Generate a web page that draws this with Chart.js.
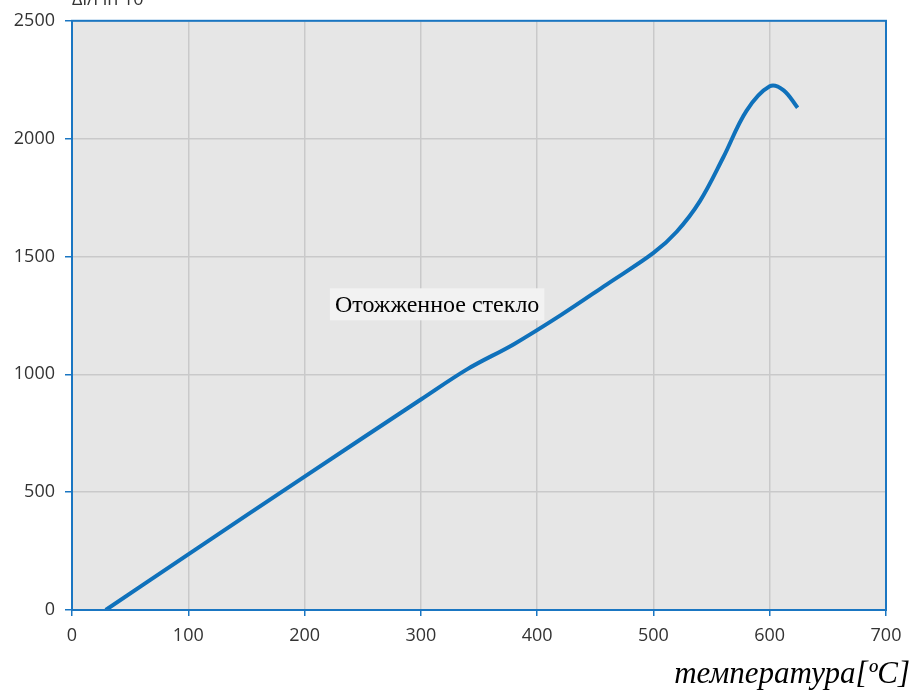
<!DOCTYPE html>
<html>
<head>
<meta charset="utf-8">
<script src="https://cdn.jsdelivr.net/npm/chart.js@4"></script>
<style>
  html, body { margin: 0; padding: 0; background: #fff; }
  #wrap { width: 915px; height: 691px; }
</style>
</head>
<body>
<div id="wrap"><canvas id="myChart" width="915" height="691"></canvas></div>
<script>
// temperature (°C) and expansion Δl/l (10^-6)
const temps = [29, 100, 200, 300, 340, 380, 420, 460, 500, 520, 540, 560, 580, 600, 612, 624];
const expansion = [0, 236, 566, 893, 1022, 1128, 1250, 1382, 1515, 1605, 1735, 1920, 2118, 2222, 2205, 2131];
const x_ticks = [0, 100, 200, 300, 400, 500, 600, 700];
const y_ticks = [0, 500, 1000, 1500, 2000, 2500];
const curve_label = "Отожженное стекло";
const label_at = [314, 1297];
const x_title = "температура[ºC]";
const y_title = "Δl/l in 10⁻⁶";

const BLUE = "#1a76c2";
const GRID = "#c9c9ca";

const points = temps.map((t, i) => ({ x: t, y: expansion[i] }));

const extras = {
  id: "extras",
  beforeDraw(chart) {
    const { ctx, chartArea: a } = chart;
    ctx.save();
    ctx.fillStyle = "#e6e6e6";
    ctx.fillRect(a.left, a.top, a.right - a.left, a.bottom - a.top);
    ctx.restore();
  },
  afterDatasetsDraw(chart) {
    const { ctx, chartArea: a, scales } = chart;
    ctx.save();
    // frame
    ctx.strokeStyle = BLUE;
    ctx.lineWidth = 2;
    ctx.strokeRect(a.left, a.top, a.right - a.left, a.bottom - a.top);

    // label in the plot
    ctx.font = '24px "Liberation Serif", "Times New Roman", serif';
    const lx = scales.x.getPixelForValue(label_at[0]);
    const ly = scales.y.getPixelForValue(label_at[1]);
    const w = ctx.measureText(curve_label).width;
    ctx.fillStyle = "#f2f2f2";
    ctx.fillRect(lx - w / 2 - 5, ly - 16, w + 10, 32);
    ctx.fillStyle = "#000";
    ctx.textAlign = "center";
    ctx.textBaseline = "middle";
    ctx.fillText(curve_label, lx, ly + 1);

    // axis titles
    ctx.font = 'italic 31px "Liberation Serif", "Times New Roman", serif';
    ctx.textAlign = "right";
    ctx.textBaseline = "alphabetic";
    ctx.fillText(x_title, 910, 683);

    ctx.font = '18px "Open Sans", sans-serif';
    ctx.fillStyle = "#333";
    ctx.textAlign = "left";
    ctx.fillText(y_title, 72, 5);
    ctx.restore();
  },
};

new Chart(document.getElementById("myChart"), {
  type: "scatter",
  data: {
    datasets: [
      {
        data: points,
        showLine: true,
        borderColor: "#0f71bb",
        borderWidth: 4,
        pointRadius: 0,
        tension: 0.35,
      },
    ],
  },
  options: {
    responsive: false,
    animation: false,
    layout: { padding: { top: 20, right: 29, left: 0, bottom: 0 } },
    plugins: { legend: { display: false }, tooltip: { enabled: false } },
    scales: {
      x: {
        type: "linear",
        min: 0,
        max: 700,
        afterBuildTicks: (s) => { s.ticks = x_ticks.map((v) => ({ value: v })); },
        afterFit: (s) => { s.height = 81; },
        grid: { color: GRID, lineWidth: 1.5, tickColor: BLUE, tickLength: 6, tickWidth: 1.5 },
        border: { color: BLUE, width: 2 },
        ticks: { color: "#333", padding: 9, callback: (v) => String(v), font: { family: "Open Sans", size: 18 } },
      },
      y: {
        min: 0,
        max: 2500,
        afterBuildTicks: (s) => { s.ticks = y_ticks.map((v) => ({ value: v })); },
        afterFit: (s) => { s.width = 72; },
        grid: { color: GRID, lineWidth: 1.5, tickColor: BLUE, tickLength: 7, tickWidth: 1.5 },
        border: { color: BLUE, width: 2 },
        ticks: { color: "#333", padding: 10, callback: (v) => String(v), font: { family: "Open Sans", size: 18 } },
      },
    },
  },
  plugins: [extras],
});
</script>
</body>
</html>
